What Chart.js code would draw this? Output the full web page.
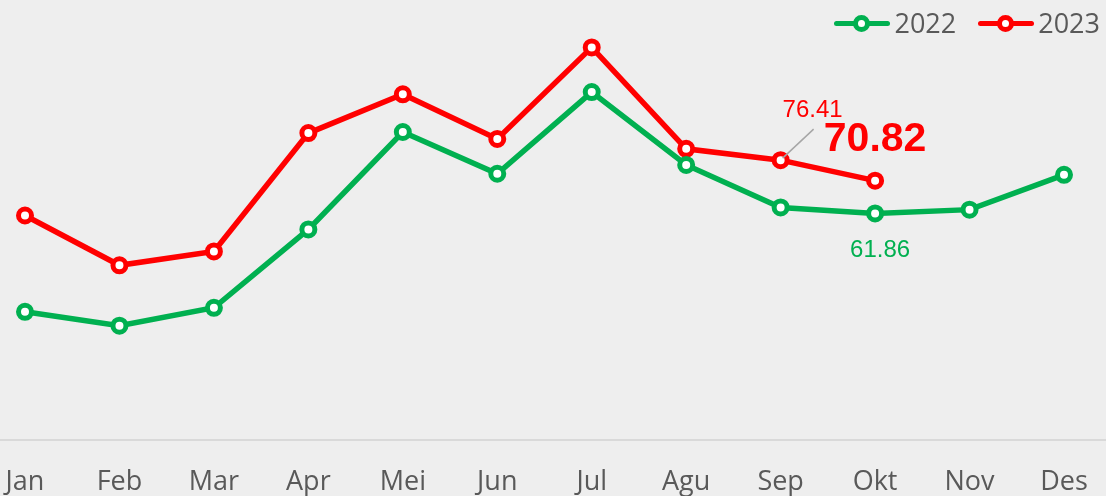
<!DOCTYPE html>
<html>
<head>
<meta charset="utf-8">
<script src="https://cdn.jsdelivr.net/npm/chart.js@4/dist/chart.umd.min.js"></script>
<style>
  html, body { margin: 0; padding: 0; background: #eeeeee; }
  #wrap { position: relative; width: 1106px; height: 496px; }
  #legend { position: absolute; top: 4px; right: 6px; display: flex; align-items: center;
            font-family: "Open Sans", sans-serif; font-size: 27px; color: #595959; }
  .item { display: flex; align-items: center; margin-left: 22px; }
  .mark { position: relative; width: 56px; height: 30px; margin-right: 4px; }
  .mark .ln { position: absolute; left: 0; right: 0; top: 13px; height: 5px; border-radius: 3px; }
  .mark .pt { position: absolute; left: 19px; top: 7px; width: 7px; height: 7px; border-radius: 50%;
              background: #fff; border: 5px solid; }
</style>
</head>
<body>
<div id="wrap">
  <canvas id="c" width="1106" height="496"></canvas>
  <div id="legend"></div>
</div>
<script>
// --- data ---
var months = ['Jan', 'Feb', 'Mar', 'Apr', 'Mei', 'Jun', 'Jul', 'Agu', 'Sep', 'Okt', 'Nov', 'Des'];
var seriesNames = ['2022', '2023'];
var values2022 = [35.0, 31.2, 36.1, 57.5, 84.1, 72.7, 95.0, 75.1, 63.5, 61.86, 62.9, 72.4];
var values2023 = [61.3, 47.7, 51.5, 83.8, 94.4, 82.2, 107.2, 79.5, 76.41, 70.82, null, null];
var GREEN = '#00b050';
var RED = '#ff0000';

// labels shown on a few points
var pointLabels = [
    { ds: 0, idx: 9, text: '61.86' },
    { ds: 1, idx: 8, text: '76.41' },
    { ds: 1, idx: 9, text: '70.82' }
];

// HTML legend
var legend = document.getElementById('legend');
[[seriesNames[0], GREEN], [seriesNames[1], RED]].forEach(function (s) {
    var it = document.createElement('div');
    it.className = 'item';
    it.innerHTML = '<div class="mark"><div class="ln" style="background:' + s[1] + '"></div>'
        + '<div class="pt" style="border-color:' + s[1] + '"></div></div><span>' + s[0] + '</span>';
    legend.appendChild(it);
});

// axis line across the whole width, like the original
var baseLine = {
    id: 'baseLine',
    beforeDatasetsDraw: function (chart) {
        var ctx = chart.ctx;
        var y = chart.scales.y.getPixelForValue(0);
        ctx.save();
        ctx.strokeStyle = '#d9d9d9';
        ctx.lineWidth = 2;
        ctx.beginPath();
        ctx.moveTo(0, y);
        ctx.lineTo(chart.width, y);
        ctx.stroke();
        ctx.restore();
    }
};

var labelPlugin = {
    id: 'pointLabels',
    afterDatasetsDraw: function (chart) {
        var ctx = chart.ctx;
        ctx.save();
        ctx.textAlign = 'center';
        ctx.textBaseline = 'middle';
        pointLabels.forEach(function (l) {
            var p = chart.getDatasetMeta(l.ds).data[l.idx];
            if (l.text === '61.86') {
                ctx.fillStyle = GREEN;
                ctx.font = '24px "Liberation Sans", Arial, sans-serif';
                ctx.fillText(l.text, p.x + 5, p.y + 37);
            } else if (l.text === '76.41') {
                ctx.strokeStyle = '#a6a6a6';
                ctx.lineWidth = 1.5;
                ctx.beginPath();
                ctx.moveTo(p.x + 33, p.y - 31);
                ctx.lineTo(p.x + 2, p.y - 2);
                ctx.stroke();
                ctx.fillStyle = RED;
                ctx.font = '24px "Liberation Sans", Arial, sans-serif';
                ctx.fillText(l.text, p.x + 32, p.y - 50);
            } else {
                ctx.fillStyle = RED;
                ctx.font = 'bold 41px "Liberation Sans", Arial, sans-serif';
                ctx.fillText(l.text, p.x, p.y - 41);
            }
        });
        ctx.restore();
    }
};

function lineDataset(label, data, color) {
    return {
        label: label,
        data: data,
        borderColor: color,
        backgroundColor: '#ffffff',
        borderWidth: 5.5,
        pointRadius: 6.5,
        pointBorderWidth: 5,
        pointBackgroundColor: '#ffffff',
        pointBorderColor: color,
        tension: 0,
        clip: false,
        spanGaps: false
    };
}

function noPad(scale) {
    scale.paddingLeft = 0;
    scale.paddingRight = 0;
    scale.paddingTop = 0;
    scale.paddingBottom = 0;
}

new Chart(document.getElementById('c'), {
    type: 'line',
    data: {
        labels: months,
        datasets: [
            lineDataset(seriesNames[0], values2022, GREEN),
            lineDataset(seriesNames[1], values2023, RED)
        ]
    },
    options: {
        responsive: false,
        animation: false,
        layout: { padding: { left: 25, right: 42, top: 0, bottom: 0 } },
        plugins: { legend: { display: false }, tooltip: { enabled: false } },
        scales: {
            x: {
                offset: false,
                grid: { display: false, drawTicks: false },
                border: { display: false },
                ticks: {
                    color: '#595959',
                    padding: 26,
                    maxRotation: 0,
                    font: { family: '"Open Sans", sans-serif', size: 27 }
                },
                afterFit: function (scale) { noPad(scale); scale.height = 56; }
            },
            y: {
                display: false,
                min: 0,
                max: 117,
                afterFit: noPad
            }
        }
    },
    plugins: [baseLine, labelPlugin]
});
</script>
</body>
</html>
